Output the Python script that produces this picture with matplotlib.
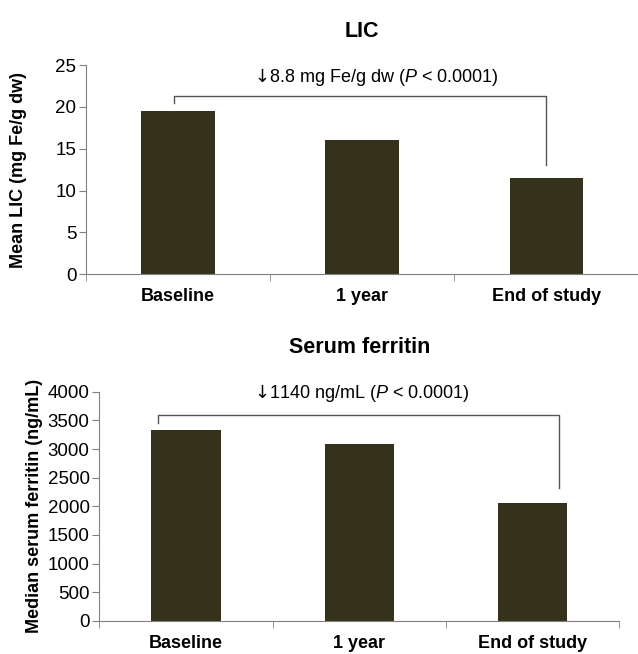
import matplotlib.pyplot as plt

plt.rcParams['font.family'] = ['Liberation Sans', 'DejaVu Sans']
plt.rcParams['mathtext.fontset'] = 'custom'
plt.rcParams['mathtext.it'] = 'Liberation Sans:italic'
plt.rcParams['mathtext.rm'] = 'Liberation Sans'
plt.rcParams['mathtext.sf'] = 'DejaVu Sans'

# data
categories = ["Baseline", "1 year", "End of study"]
lic_values = [19.5, 16.0, 11.5]
ferritin_values = [3340, 3080, 2060]

lic_label = "$\\mathsf{\u2193}$8.8 mg Fe/g dw ($\\it{P}$ < 0.0001)"
ferritin_label = "$\\mathsf{\u2193}$1140 ng/mL ($\\it{P}$ < 0.0001)"

bar_color = "#34321a"
axis_color = "#808080"

fig = plt.figure(figsize=(6.38, 6.54), dpi=100)
ax1 = fig.add_axes([0.1348, 0.5806, 0.866, 0.32])
ax2 = fig.add_axes([0.1556, 0.0505, 0.8151, 0.3506])


def draw_panel(ax, values, ylim, yticks, title, ylabel, label, bracket, text_pos, title_pad):
    x = range(len(categories))
    ax.bar(x, values, width=0.4, color=bar_color)
    ax.set_xlim(-0.5, len(categories) - 0.5)
    ax.set_ylim(0, ylim)
    ax.set_yticks(yticks)
    ax.set_xticks(list(x))
    ax.set_xticklabels(categories, fontweight="bold", fontsize=13)
    ax.set_xticks([i - 0.5 for i in range(len(categories) + 1)], minor=True)
    ax.tick_params(axis="x", which="major", length=0, pad=10)
    ax.tick_params(axis="x", which="minor", length=5, color=axis_color)
    ax.tick_params(axis="y", length=5, color=axis_color, labelsize=13.5, pad=2)
    for s in ["top", "right"]:
        ax.spines[s].set_visible(False)
    for s in ["left", "bottom"]:
        ax.spines[s].set_color(axis_color)
    ax.set_title(title, fontweight="bold", fontsize=15.5, pad=title_pad)
    ax.set_ylabel(ylabel, fontweight="bold", fontsize=13)

    # bracket showing the change from baseline to end of study
    top, left_end, right_end, x0, x1 = bracket
    ax.plot([x0, x0, x1, x1], [left_end, top, top, right_end],
            color="#555555", lw=1)
    ax.text(text_pos[0], text_pos[1], label, ha="left", va="center",
            fontsize=13)


draw_panel(ax1, lic_values, 25, [0, 5, 10, 15, 20, 25], "LIC",
           "Mean LIC (mg Fe/g dw)", lic_label,
           (21.3, 20.5, 13.05, -0.02, 2.0), (0.41, 23.6), 20)
ax1.yaxis.set_label_coords(-0.107, 0.5)

draw_panel(ax2, ferritin_values, 4000, list(range(0, 4001, 500)),
           "Serum ferritin", "Median serum ferritin (ng/mL)", ferritin_label,
           (3593, 3460, 2315, -0.16, 2.15), (0.395, 3980), 28)
ax2.yaxis.set_label_coords(-0.108, 0.5)

fig.savefig("out.png", dpi=100)
